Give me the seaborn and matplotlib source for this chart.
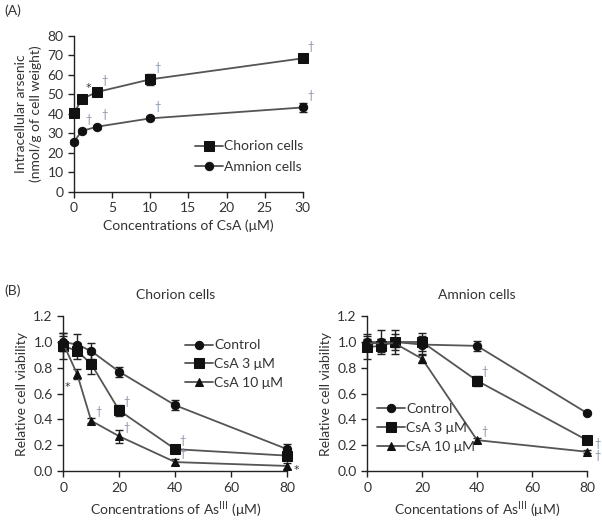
import numpy as np
import pandas as pd
import seaborn as sns
import matplotlib
matplotlib.use("Agg")
import matplotlib.pyplot as plt

# ---- data: panel A (intracellular arsenic vs CsA) ----
csa_conc = [0, 1, 3, 10, 30]
chorion_as = [40.2, 47.6, 51.2, 57.7, 68.5]
chorion_as_err = [1.0, 1.0, 1.0, 2.8, 1.0]
amnion_as = [25.7, 31.2, 33.4, 37.7, 43.3]
amnion_as_err = [1.0, 1.0, 1.0, 1.0, 2.2]
chorion_as_marks = ['', '*', '†', '†', '†']
amnion_as_marks = ['', '†', '†', '†', '†']

# ---- data: panel B (viability vs As(III)) ----
as_conc = [0, 5, 10, 20, 40, 80]
groups = ['Control', 'CsA 3 μM', 'CsA 10 μM']
chorion_ctrl = [1.00, 0.98, 0.93, 0.77, 0.51, 0.17]
chorion_ctrl_err = [0.07, 0.08, 0.06, 0.04, 0.04, 0.04]
chorion_csa3 = [0.97, 0.93, 0.83, 0.47, 0.17, 0.12]
chorion_csa3_err = [0.10, 0.06, 0.08, 0.04, 0.02, 0.03]
chorion_csa10 = [0.99, 0.75, 0.39, 0.27, 0.07, 0.04]
chorion_csa10_err = [0.06, 0.04, 0.02, 0.05, 0.02, 0.02]
amnion_ctrl = [1.00, 1.00, 1.00, 0.98, 0.97, 0.45]
amnion_ctrl_err = [0.06, 0.09, 0.09, 0.07, 0.04, 0.01]
amnion_csa3 = [0.96, 0.97, 1.00, 1.00, 0.70, 0.24]
amnion_csa3_err = [0.09, 0.05, 0.06, 0.07, 0.04, 0.02]
amnion_csa10 = [0.99, 0.99, 0.99, 0.87, 0.24, 0.15]
amnion_csa10_err = [0.03, 0.03, 0.03, 0.03, 0.02, 0.01]
chorion_marks = {
    'CsA 3 μM': ['', '', '', '†', '†', ''],
    'CsA 10 μM': ['', '*', '†', '†', '†', '*'],
}
amnion_marks = {
    'CsA 3 μM': ['', '', '', '', '†', '†'],
    'CsA 10 μM': ['', '', '', '', '†', '†'],
}

sns.set_style("ticks")
plt.rcParams['font.family'] = ['Lato', 'DejaVu Sans']
plt.rcParams['font.size'] = 8
TXT = '#333333'
LINE = '#555555'
MARK = '#111111'
DAG = '#7f8fa6'
FS = 10

fig = plt.figure(figsize=(6.02, 5.20), dpi=100)
axA = fig.add_axes([0.123, 0.631, 0.380, 0.300])
axB1 = fig.add_axes([0.105, 0.094, 0.372, 0.298])
axB2 = fig.add_axes([0.610, 0.094, 0.365, 0.298])


def style_axis(ax):
    sns.despine(ax=ax)
    for s in ['left', 'bottom']:
        ax.spines[s].set_color('#222222')
        ax.spines[s].set_linewidth(1.0)
    ax.tick_params(direction='out', length=4, width=1.0, colors='#222222',
                   labelcolor=TXT, labelsize=FS)


def black_markers(lines, sizes):
    for ln, sz in zip(lines, sizes):
        ln.set_markerfacecolor(MARK)
        ln.set_markeredgecolor(MARK)
        ln.set_markersize(sz)


def legend(ax, anchor, sizes, spacing):
    leg = ax.legend(loc='upper left', bbox_to_anchor=anchor, frameon=False,
                    fontsize=FS, handlelength=2.0, handletextpad=0.1,
                    labelspacing=spacing, borderpad=0, borderaxespad=0)
    black_markers(leg.legend_handles, sizes)
    for t in leg.get_texts():
        t.set_color(TXT)


def mark(ax, m, x, y, off):
    if m == '*':
        ax.annotate(m, (x, y), xytext=off, textcoords='offset points',
                    fontsize=8, color=TXT, family='DejaVu Sans')
    else:
        ax.annotate(m, (x, y), xytext=off, textcoords='offset points',
                    fontsize=8, color=DAG)


# ---- panel A ----
dfA = pd.DataFrame({
    'conc': csa_conc * 2,
    'val': chorion_as + amnion_as,
    'cell': ['Chorion cells'] * 5 + ['Amnion cells'] * 5,
})
sns.lineplot(data=dfA, x='conc', y='val', hue='cell', style='cell',
             markers={'Chorion cells': 's', 'Amnion cells': 'o'},
             dashes=False, palette={'Chorion cells': LINE, 'Amnion cells': LINE},
             ax=axA, linewidth=1.3, markersize=7, clip_on=False, zorder=3)
black_markers(axA.get_lines(), [7, 6])
axA.errorbar(csa_conc, chorion_as, yerr=chorion_as_err, fmt='none',
             ecolor='#222222', elinewidth=1, capsize=3, clip_on=False)
axA.errorbar(csa_conc, amnion_as, yerr=amnion_as_err, fmt='none',
             ecolor='#222222', elinewidth=1, capsize=3, clip_on=False)
for x, y, m in zip(csa_conc, chorion_as, chorion_as_marks):
    if m:
        mark(axA, m, x, y, (3, 6))
for x, y, m in zip(csa_conc, amnion_as, amnion_as_marks):
    if m:
        mark(axA, m, x, y, (3, 6))
axA.set_xlim(0, 30)
axA.set_ylim(0, 80)
axA.set_xticks(range(0, 31, 5))
axA.set_yticks(range(0, 81, 10))
axA.set_xlabel('Concentrations of CsA (μM)', color=TXT, fontsize=FS)
axA.set_ylabel('Intracellular arsenic\n(nmol/g of cell weight)', color=TXT,
               fontsize=FS)
style_axis(axA)
legend(axA, (0.528, 0.33), [7, 6], 0.6)
fig.text(0.008, 0.972, '(A)', fontsize=FS, color=TXT)


# ---- panel B ----
def panel_b(ax, vals, errs, marks, title, xlabel, anchor):
    df = pd.DataFrame({
        'conc': as_conc * 3,
        'val': vals[0] + vals[1] + vals[2],
        'group': [g for g in groups for _ in as_conc],
    })
    sns.lineplot(data=df, x='conc', y='val', hue='group', style='group',
                 markers={'Control': 'o', 'CsA 3 μM': 's', 'CsA 10 μM': '^'},
                 dashes=False, palette={g: LINE for g in groups}, ax=ax,
                 linewidth=1.3, markersize=6.5, clip_on=False, zorder=3)
    black_markers(ax.get_lines(), [6, 7, 6])
    for v, e in zip(vals, errs):
        ax.errorbar(as_conc, v, yerr=e, fmt='none', ecolor='#222222',
                    elinewidth=1, capsize=3, clip_on=False)
    for g, v in zip(groups, vals):
        if g not in marks:
            continue
        for x, y, m in zip(as_conc, v, marks[g]):
            if not m:
                continue
            if m == '*' and x < 40:
                off = (-9, -11)
            elif x == 80:
                off = (5, -5)
            else:
                off = (3, 4)
            mark(ax, m, x, y, off)
    ax.set_xlim(0, 80)
    ax.set_ylim(0, 1.2)
    ax.set_xticks(range(0, 81, 20))
    ax.set_yticks(np.arange(0, 1.21, 0.2))
    ax.yaxis.set_major_formatter(matplotlib.ticker.FormatStrFormatter('%.1f'))
    ax.set_title(title, color=TXT, fontsize=FS, pad=12)
    ax.set_xlabel(xlabel, color=TXT, fontsize=FS)
    ax.set_ylabel('Relative cell viability', color=TXT, fontsize=FS)
    style_axis(ax)
    legend(ax, anchor, [6, 7, 6], 0.5)


panel_b(axB1, [chorion_ctrl, chorion_csa3, chorion_csa10],
        [chorion_ctrl_err, chorion_csa3_err, chorion_csa10_err],
        chorion_marks, 'Chorion cells',
        'Concentrations of As$^{\\mathrm{III}}$ (μM)', (0.545, 0.85))
panel_b(axB2, [amnion_ctrl, amnion_csa3, amnion_csa10],
        [amnion_ctrl_err, amnion_csa3_err, amnion_csa10_err],
        amnion_marks, 'Amnion cells',
        'Concentations of As$^{\\mathrm{III}}$ (μM)', (0.045, 0.44))
fig.text(0.008, 0.432, '(B)', fontsize=FS, color=TXT)

fig.savefig('out.png', dpi=100, facecolor='white')
